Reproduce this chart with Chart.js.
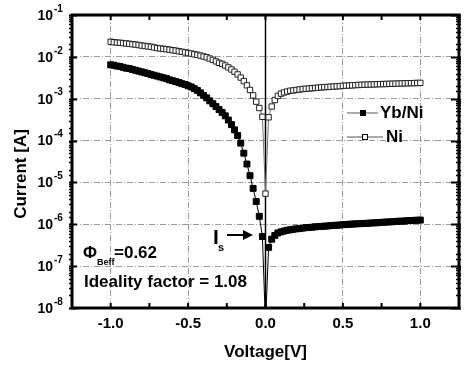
<!DOCTYPE html>
<html>
<head>
<meta charset="utf-8">
<script src="https://cdn.jsdelivr.net/npm/chart.js@4.4.0/dist/chart.umd.min.js"></script>
<style>
  html, body { margin: 0; padding: 0; background: #fff; }
  #wrap { width: 466px; height: 367px; }
</style>
</head>
<body>
<div id="wrap"><canvas id="ivChart" width="466" height="367"></canvas></div>
<script>
// bias voltage [V]
const voltages = [
  -1.00, -0.98, -0.96, -0.94, -0.92, -0.90, -0.88, -0.86, -0.84, -0.82,
  -0.80, -0.78, -0.76, -0.74, -0.72, -0.70, -0.68, -0.66, -0.64, -0.62,
  -0.60, -0.58, -0.56, -0.54, -0.52, -0.50, -0.48, -0.46, -0.44, -0.42,
  -0.40, -0.38, -0.36, -0.34, -0.32, -0.30, -0.28, -0.26, -0.24, -0.22,
  -0.20, -0.18, -0.16, -0.14, -0.12, -0.10, -0.08, -0.06, -0.04, -0.02,
  0.00,
  0.02, 0.04, 0.06, 0.08, 0.10, 0.12, 0.14, 0.16, 0.18, 0.20,
  0.22, 0.24, 0.26, 0.28, 0.30, 0.32, 0.34, 0.36, 0.38, 0.40,
  0.42, 0.44, 0.46, 0.48, 0.50, 0.52, 0.54, 0.56, 0.58, 0.60,
  0.62, 0.64, 0.66, 0.68, 0.70, 0.72, 0.74, 0.76, 0.78, 0.80,
  0.82, 0.84, 0.86, 0.88, 0.90, 0.92, 0.94, 0.96, 0.98, 1.00
];

// current [A], Yb/Ni contact
const ybNiCurrent = [
  6.46e-3, 6.31e-3, 6.03e-3, 5.89e-3, 5.62e-3, 5.37e-3, 5.25e-3, 5.01e-3, 4.79e-3, 4.57e-3,
  4.37e-3, 4.17e-3, 3.98e-3, 3.80e-3, 3.63e-3, 3.47e-3, 3.31e-3, 3.16e-3, 3.02e-3, 2.82e-3,
  2.69e-3, 2.57e-3, 2.45e-3, 2.29e-3, 2.19e-3, 2.04e-3, 1.91e-3, 1.74e-3, 1.58e-3, 1.38e-3,
  1.20e-3, 1.05e-3, 8.9e-4, 7.6e-4, 6.5e-4, 5.5e-4, 4.7e-4, 3.9e-4, 3.1e-4, 2.4e-4,
  1.8e-4, 1.32e-4, 8.7e-5, 5.0e-5, 2.75e-5, 1.45e-5, 7.2e-6, 3.5e-6, 1.55e-6, 5.1e-7,
  4e-9,
  2.8e-7, 4.4e-7, 5.4e-7, 6.2e-7, 6.6e-7, 6.9e-7, 7.2e-7, 7.4e-7, 7.6e-7, 7.8e-7,
  7.9e-7, 8.1e-7, 8.3e-7, 8.4e-7, 8.5e-7, 8.7e-7, 8.8e-7, 8.9e-7, 9.0e-7, 9.1e-7,
  9.3e-7, 9.4e-7, 9.5e-7, 9.6e-7, 9.8e-7, 9.9e-7, 1.00e-6, 1.01e-6, 1.02e-6, 1.03e-6,
  1.04e-6, 1.05e-6, 1.06e-6, 1.07e-6, 1.08e-6, 1.09e-6, 1.10e-6, 1.12e-6, 1.13e-6, 1.14e-6,
  1.15e-6, 1.17e-6, 1.18e-6, 1.19e-6, 1.20e-6, 1.22e-6, 1.23e-6, 1.24e-6, 1.25e-6, 1.26e-6
];

// current [A], Ni contact
const niCurrent = [
  2.29e-2, 2.24e-2, 2.19e-2, 2.17e-2, 2.13e-2, 2.09e-2, 2.05e-2, 2.00e-2, 1.96e-2, 1.92e-2,
  1.86e-2, 1.82e-2, 1.78e-2, 1.74e-2, 1.68e-2, 1.62e-2, 1.59e-2, 1.55e-2, 1.52e-2, 1.48e-2,
  1.44e-2, 1.41e-2, 1.36e-2, 1.32e-2, 1.28e-2, 1.23e-2, 1.20e-2, 1.15e-2, 1.12e-2, 1.07e-2,
  1.02e-2, 9.8e-3, 9.1e-3, 8.5e-3, 7.8e-3, 7.2e-3, 6.8e-3, 6.2e-3, 5.6e-3, 5.0e-3,
  4.4e-3, 3.8e-3, 3.2e-3, 2.63e-3, 2.09e-3, 1.62e-3, 1.20e-3, 8.5e-4, 6.0e-4, 3.7e-4,
  5.4e-6,
  3.6e-4, 6.5e-4, 9.3e-4, 1.17e-3, 1.32e-3, 1.41e-3, 1.48e-3, 1.55e-3, 1.58e-3, 1.62e-3,
  1.66e-3, 1.70e-3, 1.73e-3, 1.75e-3, 1.78e-3, 1.81e-3, 1.83e-3, 1.86e-3, 1.89e-3, 1.91e-3,
  1.93e-3, 1.95e-3, 1.98e-3, 2.00e-3, 2.03e-3, 2.05e-3, 2.07e-3, 2.09e-3, 2.11e-3, 2.13e-3,
  2.15e-3, 2.16e-3, 2.18e-3, 2.19e-3, 2.20e-3, 2.22e-3, 2.23e-3, 2.24e-3, 2.25e-3, 2.27e-3,
  2.28e-3, 2.29e-3, 2.30e-3, 2.32e-3, 2.33e-3, 2.34e-3, 2.35e-3, 2.36e-3, 2.38e-3, 2.39e-3
];

const seriesNames = ['Yb/Ni', 'Ni'];
const xTickLabels = ['-1.0', '-0.5', '0.0', '0.5', '1.0'];
const yExponents = [-8, -7, -6, -5, -4, -3, -2, -1];

const FONT = '"Liberation Sans", Arial, sans-serif';

const isDecade = (v) => {
  const l = Math.log10(v);
  return Math.abs(l - Math.round(l)) < 1e-6;
};
const isHalf = (v) => Math.abs(v * 2 - Math.round(v * 2)) < 1e-9;

function drawSquare(ctx, x, y, size, filled) {
  ctx.fillStyle = filled ? '#000' : '#fff';
  ctx.fillRect(x - size / 2, y - size / 2, size, size);
  ctx.strokeStyle = '#000';
  ctx.lineWidth = 1;
  ctx.strokeRect(x - size / 2, y - size / 2, size, size);
}

const decorations = {
  id: 'decorations',
  beforeDatasetsDraw(chart) {
    const { ctx, chartArea: a, scales: { x } } = chart;
    const x0 = x.getPixelForValue(0);
    ctx.save();
    ctx.strokeStyle = '#000';
    ctx.lineWidth = 1.5;
    ctx.beginPath();
    ctx.moveTo(x0, a.top);
    ctx.lineTo(x0, a.bottom);
    ctx.stroke();
    ctx.restore();
  },
  afterDraw(chart) {
    const { ctx, chartArea: a, scales: { x, y } } = chart;
    ctx.save();
    ctx.strokeStyle = '#000';

    // y ticks, both sides
    y.ticks.forEach((t) => {
      const py = Math.round(y.getPixelForValue(t.value)) + 0.5;
      ctx.lineWidth = isDecade(t.value) ? 2 : 1.5;
      const inLen = isDecade(t.value) ? 5 : 0;
      ctx.beginPath();
      ctx.moveTo(a.left - 3, py);
      ctx.lineTo(a.left + inLen, py);
      ctx.moveTo(a.right + 2, py);
      ctx.lineTo(a.right - 3 - inLen, py);
      ctx.stroke();
    });

    // x ticks, bottom and top
    x.ticks.forEach((t) => {
      const px = x.getPixelForValue(t.value);
      ctx.lineWidth = 2;
      ctx.beginPath();
      ctx.moveTo(px, a.bottom);
      ctx.lineTo(px, a.bottom - 5);
      ctx.moveTo(px, a.top);
      ctx.lineTo(px, a.top + 5);
      ctx.stroke();
    });

    // frame
    ctx.lineWidth = 3;
    ctx.strokeRect(a.left, a.top, a.right - a.left, a.bottom - a.top);

    // y tick labels 10^n
    ctx.fillStyle = '#000';
    ctx.textBaseline = 'middle';
    yExponents.forEach((e) => {
      const py = y.getPixelForValue(Math.pow(10, e));
      ctx.font = 'bold 14px ' + FONT;
      ctx.textAlign = 'right';
      ctx.fillText('10', 53, py + 1);
      ctx.font = 'bold 10px ' + FONT;
      ctx.textAlign = 'left';
      ctx.fillText(String(e), 54, py - 6);
    });

    // axis titles
    ctx.font = 'bold 17px ' + FONT;
    ctx.textAlign = 'center';
    ctx.fillText('Voltage[V]', (a.left + a.right) / 2, 352);
    ctx.save();
    ctx.translate(21, 174);
    ctx.rotate(-Math.PI / 2);
    ctx.fillText('Current [A]', 0, 0);
    ctx.restore();

    // legend
    const legendRows = [
      { name: seriesNames[0], y: 113, x1: 347, x2: 378, mx: 363, tx: 380, filled: true },
      { name: seriesNames[1], y: 137, x1: 347, x2: 383, mx: 365, tx: 386, filled: false }
    ];
    legendRows.forEach((r) => {
      ctx.strokeStyle = '#555';
      ctx.lineWidth = 1;
      ctx.beginPath();
      ctx.moveTo(r.x1, r.y);
      ctx.lineTo(r.x2, r.y);
      ctx.stroke();
      drawSquare(ctx, r.mx, r.y, 5, r.filled);
      ctx.fillStyle = '#000';
      ctx.font = 'bold 17px ' + FONT;
      ctx.textAlign = 'left';
      ctx.fillText(r.name, r.tx, r.y);
    });

    // annotations
    ctx.textAlign = 'left';
    ctx.font = 'bold 17px ' + FONT;
    ctx.fillText('\u03A6', 83, 253);
    ctx.font = 'bold 9px ' + FONT;
    ctx.fillText('Beff', 97, 263);
    ctx.font = 'bold 17px ' + FONT;
    ctx.fillText('=0.62', 114, 253);
    ctx.fillText('Ideality factor = 1.08', 84, 282);

    ctx.font = 'bold 21px ' + FONT;
    ctx.fillText('I', 213, 238);
    ctx.font = 'bold 11px ' + FONT;
    ctx.fillText('s', 218, 248);

    ctx.strokeStyle = '#000';
    ctx.lineWidth = 2;
    ctx.beginPath();
    ctx.moveTo(227, 235);
    ctx.lineTo(245, 235);
    ctx.stroke();
    ctx.beginPath();
    ctx.moveTo(253, 235);
    ctx.lineTo(243, 230);
    ctx.lineTo(243, 240);
    ctx.closePath();
    ctx.fill();

    ctx.restore();
  }
};

new Chart(document.getElementById('ivChart').getContext('2d'), {
  type: 'line',
  data: {
    datasets: [
      {
        label: seriesNames[0],
        data: voltages.map((v, i) => ({ x: v, y: ybNiCurrent[i] })),
        borderColor: '#000',
        borderWidth: 1,
        pointStyle: 'rect',
        pointRadius: 4.2,
        pointBackgroundColor: '#000',
        pointBorderColor: '#000',
        pointBorderWidth: 1,
        order: 1
      },
      {
        label: seriesNames[1],
        data: voltages.map((v, i) => ({ x: v, y: niCurrent[i] })),
        borderColor: '#777',
        borderWidth: 1,
        pointStyle: 'rect',
        pointRadius: 3.8,
        pointBackgroundColor: '#fff',
        pointBorderColor: '#222',
        pointBorderWidth: 1,
        order: 2
      }
    ]
  },
  options: {
    responsive: false,
    animation: false,
    events: [],
    layout: { padding: { top: 15, right: 3, left: 0, bottom: 0 } },
    plugins: { legend: { display: false }, tooltip: { enabled: false } },
    scales: {
      x: {
        type: 'linear',
        min: -1.25,
        max: 1.25,
        afterFit: (scale) => { scale.height = 59; },
        border: { display: false, dash: [6, 2, 1, 2] },
        grid: {
          drawTicks: false,
          lineWidth: 1,
          color: (c) => (c.tick && Math.abs(c.tick.value) > 1e-9 && Math.abs(c.tick.value) <= 1.0001 && isHalf(c.tick.value)) ? '#9a9a9a' : 'rgba(0,0,0,0)'
        },
        ticks: {
          stepSize: 0.25,
          autoSkip: false,
          maxRotation: 0,
          padding: 7,
          color: '#000',
          font: { family: FONT, weight: 'bold', size: 15 },
          callback: (v) => {
            const lbl = Number(v).toFixed(1);
            return (isHalf(v) && xTickLabels.includes(lbl)) ? lbl : '';
          }
        }
      },
      y: {
        type: 'logarithmic',
        min: 1e-8,
        max: 1e-1,
        afterFit: (scale) => { scale.width = 72; },
        border: { display: false, dash: [6, 2, 1, 2] },
        grid: {
          drawTicks: false,
          lineWidth: 1,
          color: (c) => (c.tick && isDecade(c.tick.value)) ? '#9a9a9a' : 'rgba(0,0,0,0)'
        },
        ticks: { display: false, autoSkip: false }
      }
    }
  },
  plugins: [decorations]
});
</script>
</body>
</html>
